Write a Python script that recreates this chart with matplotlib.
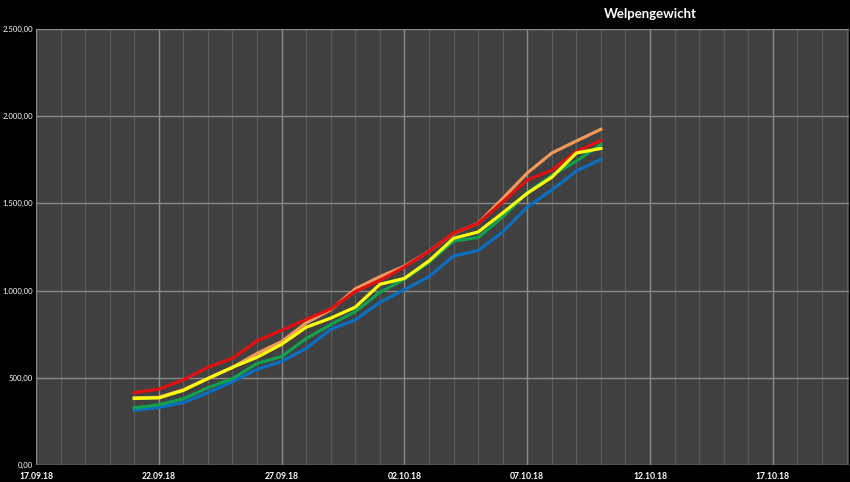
import matplotlib
matplotlib.use("Agg")
import matplotlib.pyplot as plt
import matplotlib.dates as mdates
import matplotlib.ticker as mticker
import datetime as dt

plt.rcParams['font.family'] = ['Lato', 'DejaVu Sans']

title = "Welpengewicht"
dates = [dt.datetime(2018, 9, 21) + dt.timedelta(days=i) for i in range(20)]

blue = [315, 330, 358, 415, 478, 548, 594, 668, 778, 832, 932, 1005, 1080, 1198, 1230, 1336, 1479, 1577, 1686, 1752]
green = [328, 345, 380, 443, 495, 582, 622, 725, 805, 880, 990, 1065, 1162, 1284, 1305, 1422, 1562, 1660, 1743, 1838]
orange = [385, 388, 432, 496, 560, 640, 708, 815, 890, 1010, 1080, 1140, 1225, 1328, 1386, 1528, 1674, 1789, 1858, 1925]
red = [415, 435, 488, 560, 612, 712, 772, 835, 895, 995, 1058, 1135, 1225, 1330, 1385, 1508, 1634, 1690, 1798, 1860]
yellow = [382, 385, 428, 496, 560, 618, 692, 790, 842, 905, 1036, 1070, 1170, 1300, 1336, 1445, 1558, 1650, 1789, 1815]

series = [
    (blue, "#0A6FC0"),
    (green, "#12A04E"),
    (orange, "#F2985A"),
    (red, "#E01010"),
    (yellow, "#FFFF10"),
]

W, H = 850, 482
fig = plt.figure(figsize=(W / 100, H / 100), dpi=100, facecolor="black")
ax = fig.add_axes([36 / W, (H - 465) / H, (849 - 36) / W, (465 - 29) / H])
ax.set_facecolor("#404040")

for vals, col in series:
    ax.plot(dates, vals, color=col, lw=2.3, solid_joinstyle="round", zorder=3)

x0 = dt.datetime(2018, 9, 17)
ax.set_xlim(x0, x0 + dt.timedelta(days=33.1))
ax.set_ylim(0, 2500)

ax.xaxis.set_major_locator(mdates.DayLocator(bymonthday=[2, 7, 12, 17, 22, 27]))
ax.xaxis.set_minor_locator(mdates.DayLocator())
ax.xaxis.set_major_formatter(mdates.DateFormatter("%d.%m.%y"))
ax.yaxis.set_major_locator(mticker.MultipleLocator(500))

def fmt(v, pos):
    s = f"{v:,.2f}"
    return s.replace(",", "X").replace(".", ",").replace("X", ".")
ax.yaxis.set_major_formatter(mticker.FuncFormatter(fmt))

ax.grid(which="major", axis="both", color="#8a8a8a", lw=1.0, zorder=1)
ax.grid(which="minor", axis="x", color="#5a5a5a", lw=0.9, zorder=0)

for s in ax.spines.values():
    s.set_visible(False)

ax.tick_params(axis="both", which="both", length=0, colors="white")
ax.tick_params(axis="x", labelsize=6.2, pad=5)
ax.tick_params(axis="y", labelsize=5.6, pad=2)
for lbl in ax.get_xticklabels():
    lbl.set_fontweight("bold")

fig.text(650 / W, 1 - 14 / H, title, color="white", fontsize=9.5, fontweight="bold",
         ha="center", va="center")

fig.savefig("out.png", dpi=100, facecolor="black")
